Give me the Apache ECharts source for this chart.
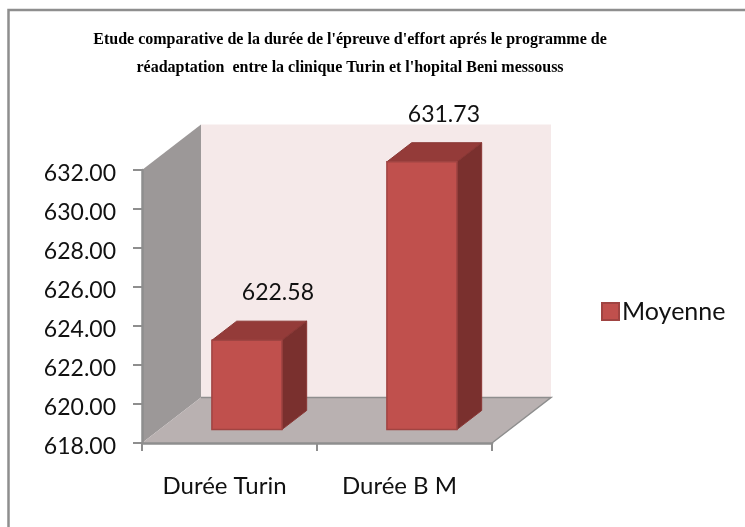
<!DOCTYPE html>
<html>
<head>
<meta charset="utf-8">
<style>html,body{margin:0;padding:0;background:#fff}#c{width:745px;height:527px}</style>
<script src="https://cdn.jsdelivr.net/npm/echarts@6/dist/echarts.min.js"></script>
</head>
<body>
<div id="c"></div>
<script>
var categories = ['Durée Turin', 'Durée B M'];
var seriesName = 'Moyenne';
var values = [622.58, 631.73];
var yMin = 618, yMax = 632, yStep = 2;
var titleText = "Etude comparative de la durée de l'épreuve d'effort aprés le programme de\nréadaptation  entre la clinique Turin et l'hopital Beni messouss";

var FONT = 'Lato';
var DEPTH_X = 59, DEPTH_Y = 45.5;
var BAR_FRONT = 0.295, BAR_DEPTH = 0.42, BAR_W = 0.4;
var labelDx = [31, 22];

function wallItem(params, api) {
  var half = api.size([1, 0])[0] / 2;
  var b0 = api.coord([0, yMin]), t0 = api.coord([0, yMax]), b1 = api.coord([categories.length - 1, yMin]);
  var xl = b0[0] - half, xr = b1[0] + half, yb = b0[1], yt = t0[1];
  var dx = DEPTH_X, dy = DEPTH_Y;
  return {
    type: 'group',
    children: [
      { type: 'rect', shape: { x: xl + dx, y: yt - dy, width: xr - xl, height: yb - yt }, style: { fill: '#f5e9e9' } },
      { type: 'polygon', shape: { points: [[xl, yt], [xl + dx, yt - dy], [xl + dx, yb - dy], [xl, yb]] }, style: { fill: '#9c9898' } },
      { type: 'polygon', shape: { points: [[xl, yb], [xl + dx, yb - dy], [xr + dx, yb - dy], [xr, yb]] }, style: { fill: '#b9b1b1' } },
      { type: 'polyline', shape: { points: [[xl + dx, yb - dy], [xr + dx, yb - dy], [xr, yb]] }, style: { fill: 'none', stroke: '#8e8e8e', lineWidth: 1.5 } }
    ]
  };
}

function barItem(params, api) {
  var i = api.value(0), v = api.value(1);
  var c = api.coord([i, v]), base = api.coord([i, yMin]);
  var band = api.size([1, 0])[0], w = band * BAR_W;
  var ox = DEPTH_X * BAR_FRONT, oy = DEPTH_Y * BAR_FRONT;
  var x0 = c[0] - w / 2 + ox, x1 = x0 + w, yt = c[1] - oy, yb = base[1] - oy;
  var ddx = DEPTH_X * BAR_DEPTH, ddy = DEPTH_Y * BAR_DEPTH;
  return {
    type: 'group',
    children: [
      { type: 'polygon', shape: { points: [[x0, yt], [x0 + ddx, yt - ddy], [x1 + ddx, yt - ddy], [x1, yt]] }, style: { fill: '#943b39', stroke: '#8a3735', lineWidth: 1 } },
      { type: 'polygon', shape: { points: [[x1, yt], [x1 + ddx, yt - ddy], [x1 + ddx, yb - ddy], [x1, yb]] }, style: { fill: '#7a302e', stroke: '#8a3735', lineWidth: 1 } },
      { type: 'rect', shape: { x: x0, y: yt, width: w, height: yb - yt }, style: { fill: '#c0504d', stroke: '#a04442', lineWidth: 1.5 } },
      { type: 'text', style: { x: x0 + w / 2 + labelDx[i], y: yt - ddy - 28.5, text: v.toFixed(2), fill: '#111', font: '23px ' + FONT, align: 'center', verticalAlign: 'middle' } }
    ]
  };
}

var chart = echarts.init(document.getElementById('c'), null, { renderer: 'canvas' });
chart.setOption({
  animation: false,
  backgroundColor: '#fff',
  title: {
    text: titleText,
    left: 345, top: 21, textAlign: 'center',
    textStyle: { fontFamily: 'Liberation Serif', fontWeight: 'bold', fontSize: 16, lineHeight: 28, color: '#000' }
  },
  legend: {
    data: [{ name: seriesName, icon: 'rect' }],
    left: 596, top: 294,
    itemWidth: 17, itemHeight: 17, itemGap: 4,
    selectedMode: false,
    textStyle: { fontFamily: FONT, fontSize: 25, color: '#111', padding: [0, 0, 0, -2] }
  },
  grid: { left: 142, top: 170, width: 350, height: 273 },
  xAxis: {
    type: 'category', data: categories, z: 5,
    axisLine: { lineStyle: { color: '#8e8e8e', width: 2.5 } },
    axisTick: { show: true, length: 8, lineStyle: { color: '#8e8e8e', width: 2 } },
    axisLabel: { margin: 31, fontFamily: FONT, fontSize: 24, color: '#111', padding: [0, 10, 0, 0] }
  },
  yAxis: {
    type: 'value', min: yMin, max: yMax, interval: yStep, z: 5,
    splitLine: { show: false },
    axisLine: { show: true, lineStyle: { color: '#8e8e8e', width: 2.5 } },
    axisTick: { show: true, length: 9, lineStyle: { color: '#8e8e8e', width: 2 } },
    axisLabel: { margin: 26, fontFamily: FONT, fontSize: 23, color: '#111', verticalAlign: 'top', lineHeight: 8, formatter: function (v) { return v.toFixed(2); } }
  },
  series: [
    { type: 'custom', name: 'walls', silent: true, clip: false, z: 1, renderItem: wallItem, data: [[0, yMin]], encode: { x: 0, y: 1 } },
    { type: 'custom', name: seriesName, silent: true, clip: false, z: 2, renderItem: barItem,
      itemStyle: { color: '#c0504d', borderColor: '#a04442', borderWidth: 1 },
      data: values.map(function (v, i) { return [i, v]; }), encode: { x: 0, y: 1 } }
  ],
  graphic: [
    { type: 'polyline', silent: true, shape: { points: [[8.5, 527], [8.5, 10], [745, 10]] }, style: { fill: 'none', stroke: '#8e8e8e', lineWidth: 2.5 } }
  ]
});
</script>
</body>
</html>
